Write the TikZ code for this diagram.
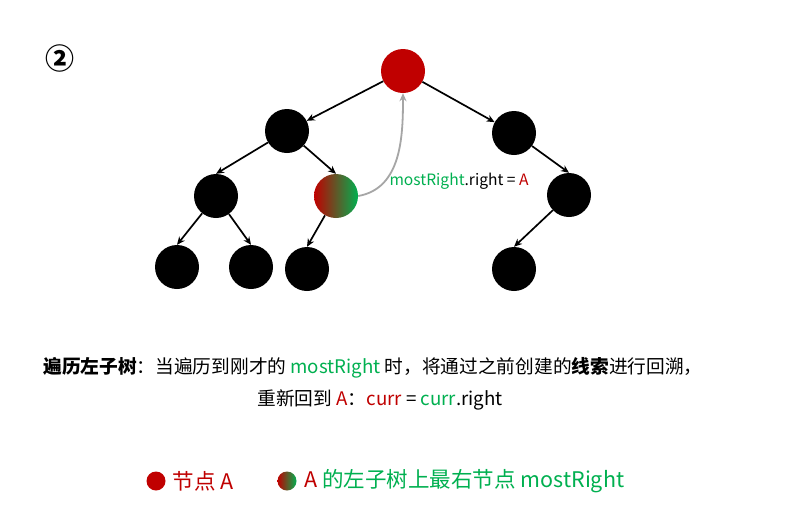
\documentclass[tikz,border=0pt]{standalone}
\usepackage{fontspec}
\setmainfont{Noto Sans CJK SC}
\usepackage{xcolor}
\usepackage{tikz}
\usetikzlibrary{arrows.meta,positioning}
\definecolor{NodeRed}{HTML}{C00000}
\definecolor{NodeGreen}{HTML}{00B050}
\definecolor{ThreadGray}{HTML}{A6A6A6}

\tikzset{
    treenode/.style={circle, fill=black, minimum size=44pt, inner sep=0pt},
    rootnode/.style={treenode, fill=NodeRed},
    mixnode/.style={treenode, fill=none, left color=NodeRed, right color=NodeGreen},
    edge/.style={-{Stealth[length=8pt,width=7pt]}, line width=1.7pt},
    thread/.style={-{Stealth[length=8pt,width=7pt]}, ThreadGray, line width=1.8pt},
    legenddot/.style={circle, minimum size=19pt, inner sep=0pt}
}

\begin{document}
\begin{tikzpicture}[x=1pt,y=-1pt]
        \useasboundingbox (0,0) rectangle (789,531);
        \fill[white] (0,0) rectangle (789,531);

        % step mark
        \node[font=\fontsize{29}{29}\selectfont\bfseries] (mark) at (60,58) {②};

        % tree
        \node[rootnode] (A) at (403,71) {};
        \node[treenode] (L) at (287,131) {};
        \node[treenode] (R) at (514,133) {};
        \node[treenode] (LL) at (216,196) {};
        \node[mixnode] (LR) at (336,196) {};
        \node[treenode] (RR) at (569,195) {};
        \node[treenode] (LLL) at (177,267) {};
        \node[treenode] (LLR) at (251,267) {};
        \node[treenode] (LRL) at (307,269) {};
        \node[treenode] (RRL) at (514,269) {};

        \draw[edge] (A) -- (L);
        \draw[edge] (A) -- (R);
        \foreach \p/\c in {L/LL, L/LR, LL/LLL, LL/LLR, LR/LRL, R/RR, RR/RRL} {
            \draw[edge] (\p) -- (\c.north);
        }

        % thread back to A
        \draw[thread] (LR.east) to[out=10, in=-90] (A.south);
        \node[anchor=west, font=\fontsize{15.6}{15.6}\selectfont] (lbl) at (386,181)
            {\textcolor{NodeGreen}{mostRight}.right = \textcolor{NodeRed}{A}};

        % caption
        \node[font=\fontsize{18.7}{18.7}\selectfont] (line1) at (373,368)
            {\textbf{遍历左子树}：当遍历到刚才的 \textcolor{NodeGreen}{mostRight} 时，将通过之前创建的\textbf{线索}进行回溯，};
        \node[font=\fontsize{18.7}{18.7}\selectfont] (line2) at (380,400)
            {重新回到 \textcolor{NodeRed}{A}：\textcolor{NodeRed}{curr} = \textcolor{NodeGreen}{curr}.right};

        % legend
        \node[legenddot, fill=NodeRed] (keyA) at (156,481) {};
        \node[anchor=west, font=\fontsize{21.5}{21.5}\selectfont, text=NodeRed] (keyAtxt) at (169,481) {节点 A};
        \node[legenddot, left color=NodeRed, right color=NodeGreen] (keyM) at (287,481) {};
        \node[anchor=west, font=\fontsize{21.5}{21.5}\selectfont, text=NodeGreen] (keyMtxt) at (301,481)
            {\textcolor{NodeRed}{A} 的左子树上最右节点 mostRight};
    \end{tikzpicture}
\end{document}
